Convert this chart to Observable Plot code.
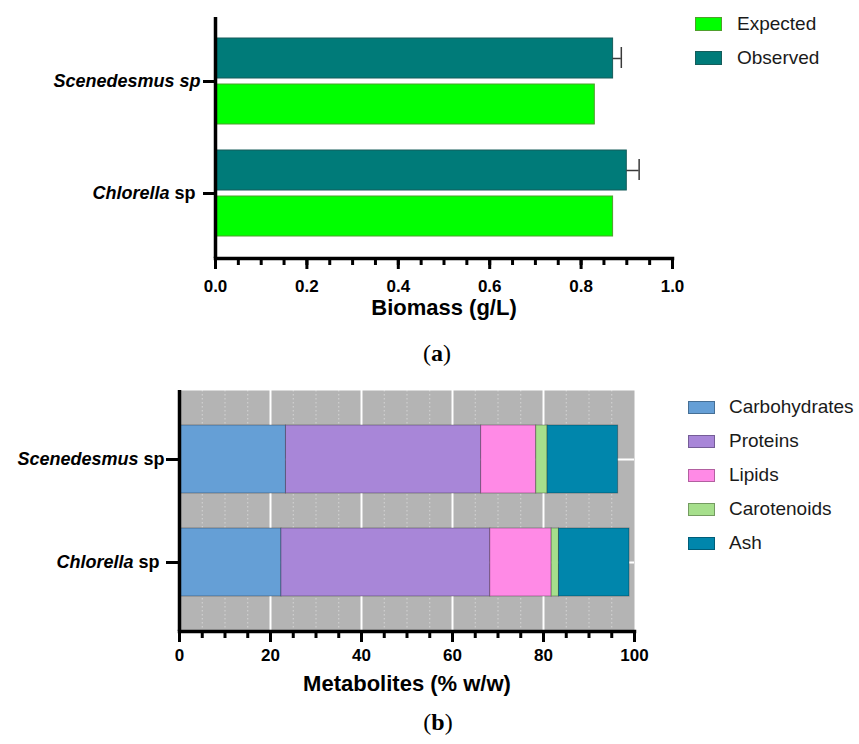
<!DOCTYPE html>
<html>
<head>
<meta charset="utf-8">
<script src="https://cdn.jsdelivr.net/npm/d3@7"></script>
<script src="https://cdn.jsdelivr.net/npm/@observablehq/plot@0.6"></script>
<style>
  body { margin: 0; background: #fff; font-family: "Liberation Sans", Arial, sans-serif; }
  #page { position: relative; width: 859px; height: 744px; overflow: hidden; background: #fff; }
  .panel { position: absolute; left: 0; }
  .legend-item { position: absolute; height: 24px; display: flex; align-items: center; white-space: nowrap;
                 font-size: 19px; color: #1a1a1a; }
  .swatch { box-sizing: border-box; border: 1px solid rgba(0,0,0,0.3); }
  .tag { position: absolute; font-family: "Liberation Serif", "DejaVu Serif", serif; font-size: 24px;
         color: #000; transform: translate(-50%, -50%); white-space: nowrap; }
</style>
</head>
<body>
<div id="page">
  <div id="panelA" class="panel" style="top:0"></div>
  <div id="panelB" class="panel" style="top:340px"></div>
  <div id="legendA"></div>
  <div id="legendB"></div>
  <div class="tag" style="left:437px;top:353px">(<b>a</b>)</div>
  <div class="tag" style="left:438px;top:722px">(<b>b</b>)</div>
</div>
<script>
// ---- data -------------------------------------------------------------
const species = ["Scenedesmus sp", "Chlorella sp"];

// (a) biomass, g/L
const biomassSeries = ["Expected", "Observed"];
const expectedBiomass = [0.83, 0.87];
const observedBiomass = [0.87, 0.90];
const observedError = [0.018, 0.027];
const biomassTicks = [0, 0.2, 0.4, 0.6, 0.8, 1.0];

// (b) metabolite composition, % w/w
const components = ["Carbohydrates", "Proteins", "Lipids", "Carotenoids", "Ash"];
const scenedesmusComposition = [23.4, 42.9, 12.1, 2.5, 15.5];
const chlorellaComposition = [22.4, 45.9, 13.5, 1.6, 15.5];
const metaboliteTicks = [0, 20, 40, 60, 80, 100];

// ---- styling ----------------------------------------------------------
const biomassFill = {Expected: "#00ff00", Observed: "#007b79"};
const biomassStroke = {Expected: "#4f9f2c", Observed: "#165d5b"};
const componentColors = ["#659fd6", "#a886d8", "#ff8ae6", "#a6df8c", "#0086ac"];

// genus names in italics; [italic part, upright part]
const biomassLabelParts = [["Scenedesmus sp", ""], ["Chlorella", " sp\u00a0"]];
const metaboliteLabelParts = [["Scenedesmus", " sp"], ["Chlorella", " sp\u00a0"]];

const font = "'Liberation Sans', Arial, sans-serif";
const svgNS = "http://www.w3.org/2000/svg";

function italicizeGenus(svg, parts) {
  const byName = new Map(species.map((s, i) => [s, parts[i]]));
  svg.querySelectorAll("text").forEach(t => {
    const p = byName.get(t.textContent);
    if (!p) return;
    t.textContent = "";
    const it = document.createElementNS(svgNS, "tspan");
    it.setAttribute("font-style", "italic");
    it.textContent = p[0];
    t.appendChild(it);
    if (p[1]) t.appendChild(document.createTextNode(p[1]));
  });
}

// ---- (a) grouped horizontal bars with error bars ----------------------
const biomassRows = species.map((s, i) => ({
  species: s,
  expected: expectedBiomass[i],
  observed: observedBiomass[i],
  err: observedError[i]
}));

const chartA = Plot.plot({
  width: 859,
  height: 340,
  marginTop: 17,
  marginBottom: 82,
  marginLeft: 215,
  marginRight: 187,
  style: {background: "transparent", fontFamily: font, color: "#000", overflow: "visible"},
  x: {domain: [0, 1]},
  y: {domain: species, paddingInner: 0.23, paddingOuter: 0.186},
  marks: [
    Plot.barX(biomassRows, {x: "observed", y: "species", fill: biomassFill.Observed,
      stroke: biomassStroke.Observed, strokeWidth: 1, insetBottom: 46}),
    Plot.barX(biomassRows, {x: "expected", y: "species", fill: biomassFill.Expected,
      stroke: biomassStroke.Expected, strokeWidth: 1, insetTop: 46}),
    Plot.ruleY(biomassRows, {y: "species", x1: "observed", x2: d => d.observed + d.err,
      dy: -23, stroke: "#3a3a3a", strokeWidth: 1.5}),
    Plot.tickX(biomassRows, {y: "species", x: d => d.observed + d.err,
      insetTop: 9, insetBottom: 56, stroke: "#3a3a3a", strokeWidth: 1.5}),
    Plot.axisX(d3.range(0, 1.0001, 0.05), {tickSize: 7, strokeWidth: 3, tickFormat: () => "", label: null}),
    Plot.axisX(biomassTicks, {tickSize: 11, tickPadding: 10, strokeWidth: 3, fontSize: 17,
      fontWeight: "bold", tickFormat: d3.format(".1f"), label: null}),
    Plot.axisY({tickSize: 12, tickPadding: 3, strokeWidth: 3, fontSize: 18, fontWeight: "bold", label: null}),
    Plot.ruleX([0], {strokeWidth: 3.5}),
    Plot.frame({anchor: "bottom", strokeWidth: 3.5}),
    Plot.text(["Biomass (g/L)"], {text: d => d, frameAnchor: "bottom", dy: 56, fontSize: 22, fontWeight: "bold"})
  ]
});
italicizeGenus(chartA, biomassLabelParts);
document.getElementById("panelA").appendChild(chartA);

// ---- (b) stacked composition bars --------------------------------------
const compositions = [scenedesmusComposition, chlorellaComposition];
const compositionRows = [];
species.forEach((s, i) => components.forEach((c, j) =>
  compositionRows.push({species: s, component: c, value: compositions[i][j]})));

const minorGrid = d3.range(5, 100, 5).filter(v => v % 20 !== 0);

const chartB = Plot.plot({
  width: 859,
  height: 404,
  marginTop: 50,
  marginBottom: 113,
  marginLeft: 179,
  marginRight: 225,
  style: {background: "transparent", fontFamily: font, color: "#000", overflow: "visible"},
  x: {domain: [0, 100]},
  y: {domain: species, paddingInner: 0.338, paddingOuter: 0.33},
  color: {domain: components, range: componentColors},
  marks: [
    Plot.frame({fill: "#b4b4b4", stroke: null}),
    Plot.gridX(minorGrid, {stroke: "#ffffff", strokeOpacity: 0.45, strokeWidth: 1, strokeDasharray: "1.5,2.5"}),
    Plot.gridX([20, 40, 60, 80], {stroke: "#ffffff", strokeOpacity: 1, strokeWidth: 2}),
    Plot.gridY({stroke: "#ffffff", strokeOpacity: 1, strokeWidth: 2}),
    Plot.barX(compositionRows, {x: "value", y: "species", fill: "component",
      stroke: "rgba(0,0,0,0.3)", strokeWidth: 1}),
    Plot.axisX(d3.range(0, 100.001, 5), {tickSize: 7, strokeWidth: 3, tickFormat: () => "", label: null}),
    Plot.axisX(metaboliteTicks, {tickSize: 11, tickPadding: 6, strokeWidth: 3, fontSize: 17,
      fontWeight: "bold", label: null}),
    Plot.axisY({tickSize: 13, tickPadding: 2, strokeWidth: 3, fontSize: 18, fontWeight: "bold", label: null}),
    Plot.ruleX([0], {strokeWidth: 3.5}),
    Plot.frame({anchor: "bottom", strokeWidth: 3.5}),
    Plot.text(["Metabolites (% w/w)"], {text: d => d, frameAnchor: "bottom", dy: 59, fontSize: 22, fontWeight: "bold"})
  ]
});
italicizeGenus(chartB, metaboliteLabelParts);
document.getElementById("panelB").appendChild(chartB);

// ---- legends ------------------------------------------------------------
function buildLegend(containerId, names, fills, strokes, opts) {
  const box = document.getElementById(containerId);
  names.forEach((name, i) => {
    const item = document.createElement("div");
    item.className = "legend-item";
    item.style.left = opts.x + "px";
    item.style.top = (opts.y0 + i * opts.step - 12) + "px";
    const sw = document.createElement("span");
    sw.className = "swatch";
    sw.style.width = opts.w + "px";
    sw.style.height = opts.h + "px";
    sw.style.background = fills[i];
    if (strokes) sw.style.borderColor = strokes[i];
    sw.style.marginRight = opts.gap + "px";
    const label = document.createElement("span");
    label.textContent = name;
    item.append(sw, label);
    box.appendChild(item);
  });
}
buildLegend("legendA", biomassSeries,
  biomassSeries.map(s => biomassFill[s]), biomassSeries.map(s => biomassStroke[s]),
  {x: 695, y0: 24, step: 34, w: 27, h: 14, gap: 15});
buildLegend("legendB", components, componentColors, null,
  {x: 688, y0: 407, step: 34, w: 27, h: 13, gap: 14});
</script>
</body>
</html>
